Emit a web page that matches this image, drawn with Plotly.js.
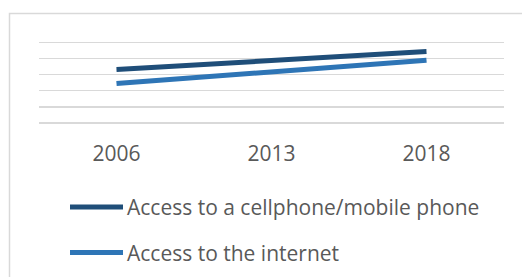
<!DOCTYPE html>
<html><head><meta charset="utf-8">
<script src="https://cdn.plot.ly/plotly-3.0.1.min.js"></script>
<style>html,body{margin:0;padding:0;background:#fff;}#chart{width:522px;height:277px;}</style>
</head><body><div id="chart"></div>
<script>
const years = ['2006', '2013', '2018'];
const seriesNames = ['Access to a cellphone/mobile phone', 'Access to the internet'];
const cellphone = [66.5, 77.5, 89];
const internet = [49, 63.5, 78];
const colors = ['#1f4e79', '#2e75b6'];

const W = 522, H = 277, L = 39, R = 18, T = 41, B = 154;
const pw = W - L - R, ph = H - T - B;
const px = x => (x - L) / pw;
const py = y => (H - B - y) / ph;

const traces = [cellphone, internet].map((v, i) => ({
  x: years, y: v, type: 'scatter', mode: 'lines', name: seriesNames[i],
  line: {color: colors[i], width: 5}, showlegend: false, hoverinfo: 'skip'
}));

const legendY = [207, 252.5];
const shapes = [{
  type: 'rect', xref: 'paper', yref: 'paper',
  x0: px(9.5), x1: px(540), y0: py(300), y1: py(13.5),
  line: {color: '#d9d9d9', width: 1.5}, fillcolor: 'rgba(0,0,0,0)', layer: 'below'
}];
const annotations = [];
seriesNames.forEach((n, i) => {
  shapes.push({type: 'line', xref: 'paper', yref: 'paper',
    x0: px(70), x1: px(123), y0: py(legendY[i]), y1: py(legendY[i]),
    line: {color: colors[i], width: 5}});
  annotations.push({xref: 'paper', yref: 'paper', x: px(125), y: py(legendY[i]),
    xanchor: 'left', yanchor: 'middle', text: n, showarrow: false,
    font: {family: 'Open Sans', size: 21, color: '#595959'}});
});

const layout = {
  width: W, height: H,
  margin: {l: L, r: R, t: T, b: B, pad: 0},
  paper_bgcolor: '#fff', plot_bgcolor: '#fff',
  showlegend: false,
  font: {family: 'Open Sans', color: '#595959', size: 21},
  xaxis: {type: 'category', range: [-0.5, 2.5], showgrid: false, zeroline: false, showline: false,
    ticks: 'outside', ticklen: 12, tickcolor: 'rgba(0,0,0,0)',
    tickfont: {family: 'Open Sans', size: 21, color: '#595959'}},
  yaxis: {range: [0, 102], dtick: 20, showgrid: true, gridcolor: '#d9d9d9', gridwidth: 1.3,
    zeroline: true, zerolinecolor: '#d9d9d9', zerolinewidth: 1.3,
    showticklabels: false, ticks: ''},
  shapes: shapes, annotations: annotations
};
Plotly.newPlot('chart', traces, layout, {staticPlot: true, displayModeBar: false});
</script></body></html>
